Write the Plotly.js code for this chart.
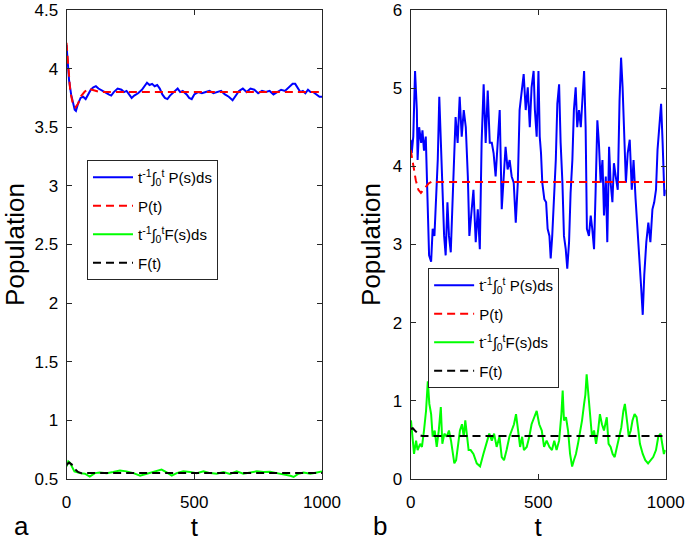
<!DOCTYPE html>
<html>
<head>
<meta charset="utf-8">
<script src="https://cdn.plot.ly/plotly-3.0.1.min.js"></script>
<style>html,body{margin:0;padding:0;background:#fff;}#chart{width:685px;height:543px;}</style>
</head>
<body>
<div id="chart"></div>
<script>
// ---------- Panel a ----------
const tAP = [0,5,10,18,25,32,37,45,55,65,75,85,95,105,115,125,135,150,165,175,185,200,215,225,235,245,255,265,280,295,305,315,325,335,345,355,365,375,385,395,405,420,435,445,455,470,480,490,500,515,530,545,560,575,590,605,620,635,650,660,675,690,705,720,735,750,765,780,795,810,825,840,855,870,885,895,905,915,925,935,945,955,965,980,990,1000];
const aPmean = [4.2,4.05,3.9,3.78,3.7,3.65,3.64,3.7,3.75,3.76,3.74,3.78,3.82,3.84,3.85,3.83,3.82,3.8,3.78,3.77,3.8,3.83,3.82,3.8,3.81,3.78,3.75,3.77,3.79,3.82,3.85,3.88,3.86,3.87,3.85,3.86,3.83,3.78,3.75,3.74,3.77,3.8,3.83,3.8,3.81,3.78,3.75,3.74,3.78,3.8,3.79,3.8,3.81,3.79,3.8,3.81,3.78,3.76,3.73,3.76,3.81,3.83,3.8,3.83,3.82,3.79,3.81,3.8,3.81,3.78,3.8,3.82,3.81,3.84,3.87,3.87,3.83,3.8,3.81,3.79,3.82,3.8,3.8,3.78,3.76,3.76];
const tAPdet = [0,8,15,25,35,45,55,70,85,100,130,200,400,600,800,1000];
const aPdet = [4.22,3.95,3.8,3.7,3.67,3.7,3.76,3.8,3.83,3.82,3.8,3.8,3.8,3.8,3.8,3.8];
const tAF = [0,7,13,20,31,52,72,91,111,131,157,183,209,235,262,288,314,340,372,392,412,431,457,483,510,536,562,588,614,640,666,692,719,745,771,797,823,849,876,889,908,928,954,980,1000];
const aFmean = [0.607,0.65,0.64,0.607,0.565,0.55,0.545,0.52,0.55,0.556,0.55,0.56,0.573,0.565,0.55,0.528,0.545,0.565,0.58,0.556,0.528,0.55,0.565,0.56,0.55,0.565,0.55,0.545,0.56,0.542,0.565,0.545,0.556,0.565,0.56,0.562,0.55,0.542,0.528,0.517,0.545,0.556,0.545,0.556,0.565];
const tAFdet = [0,10,20,30,45,60,80,120,300,600,1000];
const aFdet = [0.62,0.64,0.625,0.59,0.56,0.548,0.55,0.55,0.55,0.55,0.55];

// ---------- Panel b ----------
const tBP = [0,4,10,17,24,27,33,41,46,52,59,65,72,80,86,93,99,106,112,118,124,131,137,144,150,157,163,171,176,184,192,200,208,216,224,230,237,246,255,263,271,278,286,294,302,310,318,325,333,341,349,357,365,372,380,388,396,404,412,420,427,435,443,451,459,467,474,482,487,494,501,506,511,516,524,531,537,544,549,555,562,569,575,582,588,595,601,608,614,621,627,634,640,647,653,660,667,673,680,686,691,699,706,712,719,725,732,738,745,752,758,765,771,778,784,791,797,804,812,819,825,831,838,844,851,859,867,874,882,890,898,904,910,916,924,932,940,948,955,962,968,975,982,988,995,1000];
const bPmean = [4.34,4.17,4.38,5.22,4.72,4.08,4.5,4.3,4.46,4.2,4.38,3.79,2.86,2.78,3.2,3.11,3.54,4.08,4.89,4.3,3.62,3.11,2.86,3.54,3.11,2.9,3.45,4.3,4.63,4.3,4.89,4.38,4.72,4.5,3.87,3.11,3.37,3.7,3.03,3.45,2.94,4.3,5.05,4.3,4.97,4.3,4.3,4.17,3.87,4.3,4.72,3.45,3.87,4.25,3.96,4.08,3.87,3.79,3.28,3.79,4.72,4.93,5.18,4.72,5.01,4.5,5.01,5.22,4.72,4.38,5.22,4.38,4.17,3.79,3.58,3.54,3.2,3.11,2.82,3.11,3.58,4.08,4.8,5.05,4.3,3.79,3.11,2.94,2.69,3.03,3.66,4.08,4.72,5.01,4.5,4.72,4.5,4.93,5.22,4.5,3.2,3.11,3.37,3.2,2.94,3.66,4.59,4.3,3.79,4.08,3.37,3.87,3.03,4.25,3.79,3.54,4.04,3.87,3.7,4.84,5.39,5.01,4.21,3.79,4.17,4.34,3.7,4.08,3.58,3.2,2.69,2.44,2.1,2.61,3.03,3.28,3.03,3.45,3.54,3.7,4.21,4.5,4.8,4.3,3.62,3.7];
const tBPdet = [0,10,20,30,40,55,70,85,100,200,400,600,800,1000];
const bPdet = [4.21,4.0,3.82,3.7,3.66,3.72,3.78,3.81,3.8,3.8,3.8,3.8,3.8,3.8];
const tBF = [1,8,13,21,27,37,44,52,60,67,73,80,86,94,102,110,118,124,132,141,150,158,165,171,178,186,193,201,208,214,221,227,235,246,259,272,285,298,308,318,327,337,348,357,366,376,387,396,405,413,421,429,437,444,455,465,474,484,494,504,514,523,533,544,554,563,572,582,591,596,601,609,617,625,633,640,648,656,664,672,680,685,690,697,703,711,719,727,735,742,750,758,769,776,784,792,800,808,816,826,834,840,850,855,863,870,878,886,893,899,910,920,931,941,951,962,971,980,988,993,999];
const bFmean = [0.75,0.54,0.32,0.49,0.37,0.45,0.41,0.62,0.87,1.25,0.96,0.83,0.54,0.62,0.41,0.62,0.92,0.45,0.58,0.54,0.62,0.49,0.32,0.2,0.24,0.45,0.62,0.7,0.54,0.75,0.54,0.37,0.37,0.32,0.2,0.16,0.32,0.45,0.58,0.49,0.58,0.41,0.54,0.28,0.24,0.37,0.54,0.62,0.7,0.83,0.62,0.41,0.54,0.37,0.41,0.54,0.7,0.79,0.87,0.7,0.62,0.41,0.49,0.41,0.37,0.49,0.37,0.49,0.83,1.13,0.75,0.79,0.62,0.32,0.16,0.24,0.32,0.45,0.58,0.75,0.96,1.08,1.34,1.04,0.83,0.54,0.62,0.45,0.62,0.83,0.7,0.62,0.79,0.45,0.41,0.32,0.28,0.41,0.54,0.66,0.87,0.96,0.7,0.54,0.62,0.75,0.83,0.79,0.62,0.45,0.32,0.24,0.2,0.24,0.28,0.37,0.54,0.58,0.41,0.32,0.37];
const tBFdet = [0,8,16,25,35,45,60,100,300,600,1000];
const bFdet = [0.64,0.65,0.62,0.59,0.56,0.55,0.55,0.55,0.55,0.55,0.55];

const xTicks = [0,500,1000];
const yTicksA = [0.5,1,1.5,2,2.5,3,3.5,4,4.5];
const yTicksB = [0,1,2,3,4,5,6];

const names = ['t<sup>-1</sup>∫<sub>0</sub><sup>t</sup> P(s)ds','P(t)','t<sup>-1</sup>∫<sub>0</sub><sup>t</sup>F(s)ds','F(t)'];
const colors = ['#0000ff','#ff0000','#00ff00','#000000'];
const DASH = '8px,5px';

function tr(x, y, i, xa, ya, leg){
  return {x:x, y:y, type:'scatter', mode:'lines', name:names[i],
    xaxis:xa, yaxis:ya, legend:leg, legendgroup:leg+i,
    line:{color:colors[i], width:2, dash: (i%2===1)?DASH:'solid'}};
}
const data = [
  tr(tAP,aPmean,0,'x','y','legend'),
  tr(tAPdet,aPdet,1,'x','y','legend'),
  tr(tAF,aFmean,2,'x','y','legend'),
  tr(tAFdet,aFdet,3,'x','y','legend'),
  tr(tBP,bPmean,0,'x2','y2','legend2'),
  tr(tBPdet,bPdet,1,'x2','y2','legend2'),
  tr(tBF,bFmean,2,'x2','y2','legend2'),
  tr(tBFdet,bFdet,3,'x2','y2','legend2')
];

const FONT = 'Liberation Sans, Arial, sans-serif';
const axCommon = {ticks:'inside', ticklen:5, tickcolor:'#262626', showline:true, mirror:'ticks',
  linecolor:'#262626', linewidth:1, showgrid:false, zeroline:false, automargin:false,
  ticklabeloverflow:'allow', tickmode:'array',
  tickfont:{family:FONT, size:17, color:'#000'}};
const xTitle = {text:'t', font:{family:FONT, size:26, color:'#000'}, standoff:5};
const yTitle = {text:'Population', font:{family:FONT, size:26, color:'#000'}, standoff:4};
const legCommon = {bgcolor:'#ffffff', bordercolor:'#262626', borderwidth:1,
  font:{family:FONT, size:15, color:'#000'}, itemwidth:40, tracegroupgap:6,
  xanchor:'left', yanchor:'top', xref:'paper', yref:'paper'};

const yDom = [0.1179,0.9816];

const layout = {
  width:685, height:543, margin:{l:0,r:0,t:0,b:0},
  paper_bgcolor:'#fff', plot_bgcolor:'#fff',
  font:{family:FONT},
  xaxis:Object.assign({}, axCommon, {domain:[0.0971,0.4701], range:[0,1000], tickvals:xTicks, anchor:'y', title:xTitle, ticklabelstandoff:8}),
  yaxis:Object.assign({}, axCommon, {domain:yDom, range:[0.5,4.5], tickvals:yTicksA, anchor:'x', title:yTitle, ticklabelstandoff:4}),
  xaxis2:Object.assign({}, axCommon, {domain:[0.5996,0.9718], range:[0,1000], tickvals:xTicks, anchor:'y2', title:xTitle, ticklabelstandoff:8}),
  yaxis2:Object.assign({}, axCommon, {domain:yDom, range:[0,6], tickvals:yTicksB, anchor:'x2', title:yTitle, ticklabelstandoff:4}),
  legend:Object.assign({}, legCommon, {x:0.127, y:0.7053}),
  legend2:Object.assign({}, legCommon, {x:0.625, y:0.5064}),
  showlegend:true,
  annotations:[
    {text:'a', xref:'paper', yref:'paper', x:0.0307, y:0.0, xanchor:'center', yanchor:'bottom', showarrow:false, font:{family:FONT, size:26, color:'#000'}},
    {text:'b', xref:'paper', yref:'paper', x:0.5547, y:0.0, xanchor:'center', yanchor:'bottom', showarrow:false, font:{family:FONT, size:26, color:'#000'}}
  ]
};
Plotly.newPlot('chart', data, layout, {displayModeBar:false, staticPlot:true});
</script>
</body>
</html>
